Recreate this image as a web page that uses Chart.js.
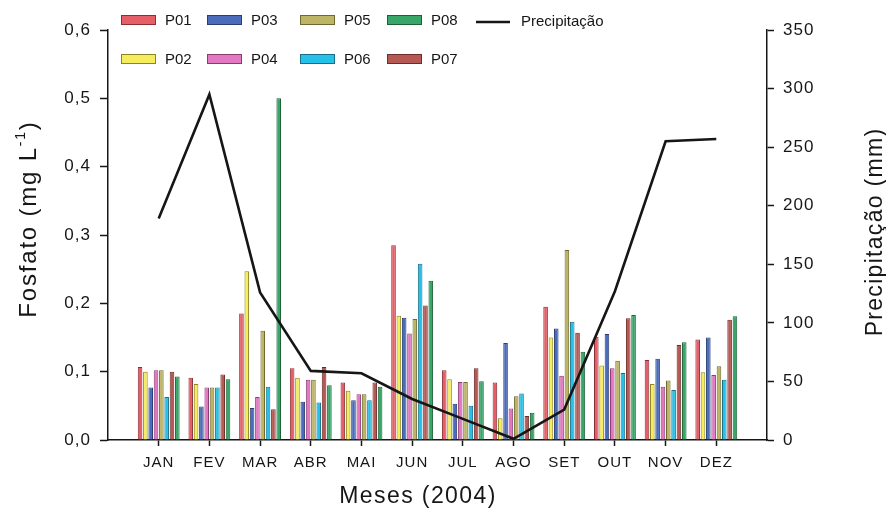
<!DOCTYPE html>
<html>
<head>
<meta charset="utf-8">
<script src="https://cdn.jsdelivr.net/npm/chart.js@4.4.1/dist/chart.umd.min.js"></script>
<style>
  html, body { margin: 0; padding: 0; background: #ffffff; }
  canvas { display: block; }
</style>
</head>
<body>
<canvas id="chart" width="886" height="513"></canvas>
<script>
// Monthly phosphate per sampling point (mg L-1) and monthly rainfall (mm), 2004
const months = ['JAN', 'FEV', 'MAR', 'ABR', 'MAI', 'JUN', 'JUL', 'AGO', 'SET', 'OUT', 'NOV', 'DEZ'];

const P01 = [0.107, 0.091, 0.185, 0.105, 0.084, 0.285, 0.102, 0.084, 0.195, 0.151, 0.117, 0.147];
const P02 = [0.100, 0.082, 0.247, 0.091, 0.072, 0.182, 0.089, 0.032, 0.150, 0.109, 0.082, 0.099];
const P03 = [0.077, 0.049, 0.047, 0.056, 0.058, 0.179, 0.053, 0.142, 0.163, 0.155, 0.119, 0.150];
const P04 = [0.102, 0.077, 0.063, 0.088, 0.067, 0.156, 0.085, 0.046, 0.094, 0.105, 0.078, 0.095];
const P05 = [0.102, 0.077, 0.160, 0.088, 0.067, 0.177, 0.085, 0.064, 0.278, 0.116, 0.087, 0.108];
const P06 = [0.063, 0.077, 0.078, 0.055, 0.058, 0.258, 0.050, 0.068, 0.173, 0.098, 0.073, 0.088];
const P07 = [0.100, 0.096, 0.045, 0.107, 0.084, 0.197, 0.105, 0.035, 0.157, 0.178, 0.139, 0.176];
const P08 = [0.093, 0.089, 0.500, 0.080, 0.078, 0.233, 0.086, 0.040, 0.129, 0.183, 0.143, 0.181];

const precipitacao = [189, 295, 126, 59, 57, 35, 18, 1, 26, 127, 255, 257];

const fosfatoRange = [0, 0.6];
const chuvaRange = [0, 350];

// Styling
const FONT = "'Liberation Sans', Arial, Helvetica, sans-serif";
const INK = '#161616';
const fills = {
  P01: '#e55f68', P02: '#f5ec5e', P03: '#4b6cba', P04: '#e278c2',
  P05: '#bdb565', P06: '#27c0e8', P07: '#b65853', P08: '#37a668'
};
const edges = {
  P01: '#8a2f36', P02: '#8c8526', P03: '#2a3f72', P04: '#8a3c72',
  P05: '#6e6930', P06: '#1a6f86', P07: '#6b2e2b', P08: '#1f6039'
};

const seriesValues = { P01, P02, P03, P04, P05, P06, P07, P08 };
const seriesOrder = ['P01', 'P02', 'P03', 'P04', 'P05', 'P06', 'P07', 'P08'];

// Empty slots at both ends leave half a month of room beside the axes
const axisLabels = ['', ...months, ''];
const padEnds = arr => [null, ...arr, null];

const barSets = seriesOrder.map(name => ({
  type: 'bar',
  label: name,
  data: padEnds(seriesValues[name]),
  backgroundColor: fills[name],
  borderColor: edges[name],
  borderWidth: 1,
  yAxisID: 'y',
  order: 1,
  categoryPercentage: 0.84,
  barPercentage: 0.86
}));

const lineSet = {
  type: 'line',
  label: 'Precipitação',
  data: padEnds(precipitacao),
  borderColor: INK,
  borderWidth: 2.6,
  pointRadius: 0,
  tension: 0,
  fill: false,
  yAxisID: 'y1',
  order: 0
};

// Legend laid out in two rows, plus the axis titles
const legendLayout = [
  { key: 'P01', x: 121, y: 20 }, { key: 'P03', x: 207, y: 20 },
  { key: 'P05', x: 300, y: 20 }, { key: 'P08', x: 387, y: 20 },
  { key: 'line', x: 476, y: 22 },
  { key: 'P02', x: 121, y: 59 }, { key: 'P04', x: 207, y: 59 },
  { key: 'P06', x: 300, y: 59 }, { key: 'P07', x: 387, y: 59 }
];

const decorations = {
  id: 'decorations',
  beforeDraw(chart) {
    const ctx = chart.ctx;
    ctx.save();
    ctx.fillStyle = '#ffffff';
    ctx.fillRect(0, 0, chart.width, chart.height);
    ctx.restore();
    ctx.letterSpacing = '1px';
  },
  afterDraw(chart) {
    const ctx = chart.ctx;
    ctx.save();
    ctx.letterSpacing = '0px';

    // legend
    ctx.font = `15px ${FONT}`;
    ctx.textAlign = 'left';
    ctx.textBaseline = 'middle';
    legendLayout.forEach(item => {
      if (item.key === 'line') {
        ctx.strokeStyle = INK;
        ctx.lineWidth = 2.6;
        ctx.beginPath();
        ctx.moveTo(item.x, item.y);
        ctx.lineTo(item.x + 34, item.y);
        ctx.stroke();
        ctx.fillStyle = INK;
        ctx.fillText(lineSet.label, item.x + 45, item.y);
      } else {
        ctx.fillStyle = fills[item.key];
        ctx.fillRect(item.x, item.y - 5, 35, 10);
        ctx.strokeStyle = edges[item.key];
        ctx.lineWidth = 1;
        ctx.strokeRect(item.x + 0.5, item.y - 4.5, 34, 9);
        ctx.fillStyle = INK;
        ctx.fillText(item.key, item.x + 44, item.y + 1);
      }
    });

    // x title
    ctx.fillStyle = INK;
    ctx.font = `23px ${FONT}`;
    ctx.letterSpacing = '1.4px';
    ctx.textAlign = 'center';
    ctx.textBaseline = 'middle';
    ctx.fillText('Meses (2004)', 418, 497);

    // left title with superscript
    ctx.save();
    ctx.translate(28, 219);
    ctx.rotate(-Math.PI / 2);
    ctx.textAlign = 'left';
    ctx.textBaseline = 'alphabetic';
    ctx.letterSpacing = '1.8px';
    const main = 'Fosfato (mg L', sup = '-1', tail = ')';
    ctx.font = `24px ${FONT}`;
    const wMain = ctx.measureText(main).width;
    const wTail = ctx.measureText(tail).width;
    ctx.font = `14px ${FONT}`;
    const wSup = ctx.measureText(sup).width;
    let x0 = -(wMain + wSup + wTail) / 2;
    ctx.font = `24px ${FONT}`;
    ctx.fillText(main, x0, 8);
    ctx.font = `14px ${FONT}`;
    ctx.fillText(sup, x0 + wMain, -3);
    ctx.font = `24px ${FONT}`;
    ctx.fillText(tail, x0 + wMain + wSup, 8);
    ctx.restore();

    // right title
    ctx.save();
    ctx.translate(874, 232);
    ctx.rotate(-Math.PI / 2);
    ctx.font = `23px ${FONT}`;
    ctx.letterSpacing = '1.3px';
    ctx.textAlign = 'center';
    ctx.textBaseline = 'alphabetic';
    ctx.fillText('Precipitação (mm)', 0, 8);
    ctx.restore();

    ctx.restore();
  }
};

const axisLine = { display: true, color: INK, width: 1.5 };

new Chart(document.getElementById('chart'), {
  data: { labels: axisLabels, datasets: [...barSets, lineSet] },
  options: {
    responsive: false,
    animation: false,
    devicePixelRatio: 1,
    layout: { padding: { top: 30, left: 0, right: 0, bottom: 0 } },
    plugins: { legend: { display: false }, tooltip: { enabled: false } },
    scales: {
      x: {
        type: 'category',
        offset: false,
        grid: {
          offset: false,
          drawOnChartArea: false,
          drawTicks: true,
          tickLength: 6,
          tickWidth: 1.5,
          tickColor: c => (c.tick && c.tick.label ? INK : 'rgba(0,0,0,0)')
        },
        border: axisLine,
        ticks: { color: INK, font: { family: FONT, size: 15 }, padding: 8, maxRotation: 0, autoSkip: false },
        afterFit: s => { s.height = 73; }
      },
      y: {
        position: 'left',
        min: fosfatoRange[0],
        max: fosfatoRange[1],
        grid: { drawOnChartArea: false, drawTicks: true, tickLength: 8, tickWidth: 1.5, tickColor: INK },
        border: axisLine,
        ticks: {
          stepSize: 0.1,
          color: INK,
          padding: 9,
          font: { family: FONT, size: 17 },
          callback: v => Number(v).toFixed(1).replace('.', ',')
        },
        afterFit: s => { s.width = 108; }
      },
      y1: {
        position: 'right',
        min: chuvaRange[0],
        max: chuvaRange[1],
        grid: { drawOnChartArea: false, drawTicks: true, tickLength: 7, tickWidth: 1.5, tickColor: INK },
        border: axisLine,
        ticks: { stepSize: 50, color: INK, padding: 9, font: { family: FONT, size: 17 } },
        afterFit: s => { s.width = 119; }
      }
    }
  },
  plugins: [decorations]
});
</script>
</body>
</html>
